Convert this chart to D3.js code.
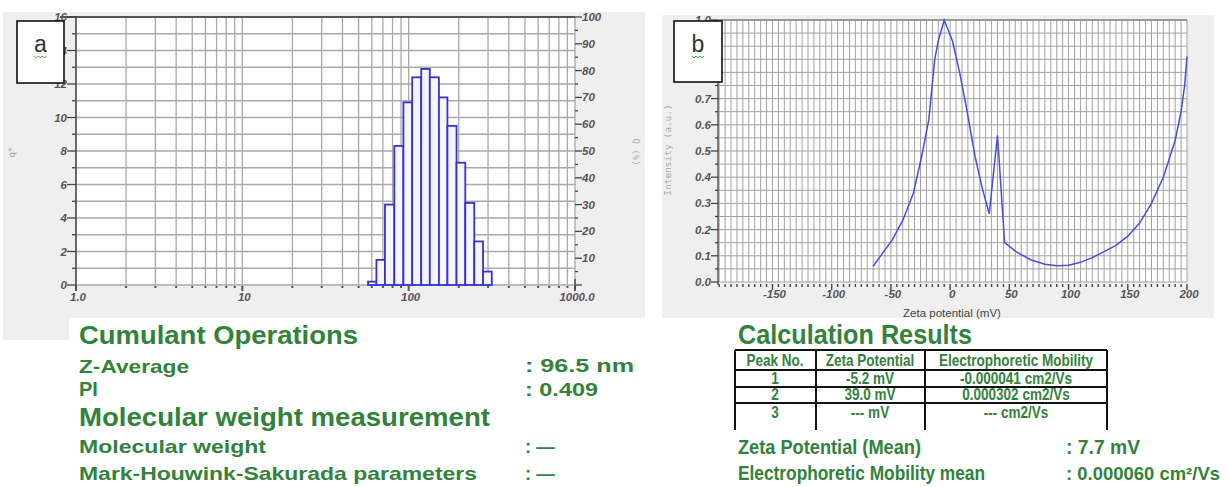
<!DOCTYPE html>
<html>
<head>
<meta charset="utf-8">
<script src="https://cdnjs.cloudflare.com/ajax/libs/d3/7.8.5/d3.min.js"></script>
<style>
  body { margin: 0; background: #fff; }
</style>
</head>
<body>
<svg id="chart" width="1228" height="487"></svg>
<script>
// ---- panel a : size distribution ----
var sizeEdges = [57, 64, 72, 82, 93, 105, 119, 134, 152, 171, 194, 219, 248, 280, 316]
var qValues = [0.2, 1.5, 4.8, 8.3, 10.9, 12.4, 12.9, 12.4, 11.2, 9.5, 7.3, 4.9, 2.6, 0.8]
var sizeTicks = [1, 10, 100, 1000]
var sizeTickLabels = ['1.0', '10', '100', '1000.0']
var qTicks = [0, 2, 4, 6, 8, 10, 12, 14, 16]
var cumTicks = [10, 20, 30, 40, 50, 60, 70, 80, 90, 100]

// ---- panel b : zeta potential ----
var zetaMv = [-65, -57, -49, -40, -31, -24, -18, -13, -10, -5, 2, 8, 14, 21, 27, 33, 40, 46, 56, 68, 80, 90, 100, 110, 120, 130, 140, 150, 160, 170, 180, 190, 195, 198, 200]
var zetaIntensity = [0.06, 0.11, 0.16, 0.235, 0.34, 0.48, 0.62, 0.85, 0.92, 1.0, 0.92, 0.80, 0.66, 0.48, 0.36, 0.26, 0.56, 0.15, 0.115, 0.085, 0.068, 0.062, 0.064, 0.075, 0.093, 0.116, 0.14, 0.175, 0.225, 0.30, 0.40, 0.54, 0.65, 0.75, 0.86]
var zetaTicks = [-150, -100, -50, 0, 50, 100, 150, 200]
// 0.8 and 0.9 sit under the "b" box in the original
var intensityTicks = [0, 0.1, 0.2, 0.3, 0.4, 0.5, 0.6, 0.7, 1.0]

// ---- text results ----
var peakHeader = ['Peak No.', 'Zeta Potential', 'Electrophoretic Mobility']
var peakNo = ['1', '2', '3']
var peakZeta = ['-5.2 mV', '39.0 mV', '--- mV']
var peakMobility = ['-0.000041 cm2/Vs', '0.000302 cm2/Vs', '--- cm2/Vs']

var svg = d3.select('#chart')
var green = '#33823c'
var tickFont = 'Liberation Sans, Arial, sans-serif'

// gray photo backgrounds
svg.append('rect').attr('x', 3).attr('y', 12).attr('width', 642).attr('height', 306).attr('fill', '#efefef')
svg.append('rect').attr('x', 3).attr('y', 318).attr('width', 66).attr('height', 22).attr('fill', '#efefef')
svg.append('rect').attr('x', 662).attr('y', 15).attr('width', 552).attr('height', 303).attr('fill', '#efefef')

// ================= chart a =================
var xa = d3.scaleLog().domain([1, 1000]).range([76, 575])
var ya = d3.scaleLinear().domain([0, 16]).range([285, 17])
var yQ = d3.scaleLinear().domain([0, 100]).range([285, 17])

var ga = svg.append('g')
ga.append('rect').attr('x', 76).attr('y', 17).attr('width', 499).attr('height', 268).attr('fill', '#fff')

var logGrid = []
;[1, 10, 100].forEach(function (d) {
  for (let k = 1; k < 10; k++) logGrid.push(d * k)
})
logGrid.push(1000)

ga.selectAll('.vg').data(logGrid).enter().append('line')
    .attr('x1', d => xa(d)).attr('x2', d => xa(d))
    .attr('y1', 17).attr('y2', 285)
    .attr('stroke', '#a9a9a9').attr('stroke-width', 1.3)

ga.selectAll('.hg').data(d3.range(0, 17)).enter().append('line')
    .attr('x1', 76).attr('x2', 575)
    .attr('y1', d => ya(d)).attr('y2', d => ya(d))
    .attr('stroke', '#a9a9a9').attr('stroke-width', 1.3)

// bottom dots
ga.selectAll('.bd').data(logGrid).enter().append('rect')
    .attr('x', d => xa(d) - 1).attr('y', 286)
    .attr('width', 2).attr('height', d => sizeTicks.indexOf(d) >= 0 ? 5 : 2)
    .attr('fill', '#555')

ga.append('line').attr('x1', 60).attr('x2', 575).attr('y1', 17).attr('y2', 17)
    .attr('stroke', '#555').attr('stroke-width', 2.2)
ga.append('line').attr('x1', 76).attr('x2', 76).attr('y1', 17).attr('y2', 289)
    .attr('stroke', '#444').attr('stroke-width', 1.4)

// histogram bars
var bins = qValues.map(function (q, i) { return { x0: sizeEdges[i], x1: sizeEdges[i + 1], q: q } })
ga.selectAll('.bar').data(bins).enter().append('rect')
    .attr('x', d => xa(d.x0))
    .attr('width', d => xa(d.x1) - xa(d.x0))
    .attr('y', d => ya(d.q))
    .attr('height', d => ya(0) - ya(d.q))
    .attr('fill', '#f6f6ff')
    .attr('stroke', '#3434d2')
    .attr('stroke-width', 1.8)

// left axis ticks
ga.selectAll('.lt').data(d3.range(0, 17)).enter().append('line')
    .attr('x1', d => d % 2 === 0 ? 67 : 72).attr('x2', 76)
    .attr('y1', d => ya(d)).attr('y2', d => ya(d))
    .attr('stroke', '#444').attr('stroke-width', 1.3)
ga.selectAll('.ll').data(qTicks).enter().append('text')
    .attr('x', 67).attr('y', d => ya(d) + 4)
    .attr('text-anchor', 'end')
    .attr('font-family', tickFont).attr('font-size', 11.5).attr('font-style', 'italic').attr('font-weight', 'bold')
    .attr('fill', '#555')
    .text(d => d)

// bottom labels
ga.selectAll('.xl').data(sizeTicks).enter().append('text')
    .attr('x', d => xa(d) + 2).attr('y', 301)
    .attr('text-anchor', 'middle')
    .attr('font-family', tickFont).attr('font-size', 11.5).attr('font-style', 'italic').attr('font-weight', 'bold')
    .attr('fill', '#555')
    .text((d, i) => sizeTickLabels[i])

// right axis (Q %)
ga.selectAll('.rt').data(d3.range(0, 101, 5)).enter().append('line')
    .attr('x1', 575).attr('x2', d => d % 10 === 0 ? 582 : 578)
    .attr('y1', d => yQ(d)).attr('y2', d => yQ(d))
    .attr('stroke', '#444').attr('stroke-width', 1.3)
ga.append('line').attr('x1', 575).attr('x2', 575).attr('y1', 279).attr('y2', 289)
    .attr('stroke', '#444').attr('stroke-width', 1.4)
ga.selectAll('.rl').data(cumTicks).enter().append('text')
    .attr('x', 582).attr('y', d => yQ(d) + 4)
    .attr('font-family', tickFont).attr('font-size', 11.5).attr('font-style', 'italic').attr('font-weight', 'bold')
    .attr('fill', '#555')
    .text(d => d)

ga.append('text').attr('transform', 'translate(15,152) rotate(-90)')
    .attr('text-anchor', 'middle').attr('font-family', 'DejaVu Sans Mono').attr('font-size', 9)
    .attr('fill', '#aaa').text('q*')
ga.append('text').attr('transform', 'translate(633,152) rotate(90)')
    .attr('text-anchor', 'middle').attr('font-family', 'DejaVu Sans Mono').attr('font-size', 9)
    .attr('fill', '#aaa').text('Q (%)')

// ================= chart b =================
var xb = d3.scaleLinear().domain([-196, 200]).range([718, 1187])
var yb = d3.scaleLinear().domain([0, 1]).range([282, 20])

var gb = svg.append('g')
gb.append('rect').attr('x', 718).attr('y', 20).attr('width', 469).attr('height', 262).attr('fill', '#fff')

gb.selectAll('.vg').data(d3.range(-195, 201, 5)).enter().append('line')
    .attr('x1', d => xb(d)).attr('x2', d => xb(d))
    .attr('y1', 20).attr('y2', 282)
    .attr('stroke', '#a2a2a2').attr('stroke-width', 1)

gb.selectAll('.hg').data(d3.range(0, 21)).enter().append('line')
    .attr('x1', 718).attr('x2', 1187)
    .attr('y1', d => yb(d * 0.05)).attr('y2', d => yb(d * 0.05))
    .attr('stroke', '#a2a2a2').attr('stroke-width', 1)

gb.append('line').attr('x1', 718).attr('x2', 1187).attr('y1', 20).attr('y2', 20)
    .attr('stroke', '#888').attr('stroke-width', 1.5)
gb.append('line').attr('x1', 718).attr('x2', 718).attr('y1', 20).attr('y2', 285)
    .attr('stroke', '#444').attr('stroke-width', 1.3)

// bottom minor ticks
gb.selectAll('.bt').data(d3.range(-195, 201, 5)).enter().append('line')
    .attr('x1', d => xb(d)).attr('x2', d => xb(d))
    .attr('y1', 284).attr('y2', d => d % 50 === 0 ? 290 : 287)
    .attr('stroke', '#444').attr('stroke-width', 1.4)

gb.selectAll('.lt').data(d3.range(0, 21)).enter().append('line')
    .attr('x1', d => d % 2 === 0 ? 711 : 715).attr('x2', 718)
    .attr('y1', d => yb(d * 0.05)).attr('y2', d => yb(d * 0.05))
    .attr('stroke', '#444').attr('stroke-width', 1.3)

gb.selectAll('.yl').data(intensityTicks).enter().append('text')
    .attr('x', 711).attr('y', d => yb(d) + 4)
    .attr('text-anchor', 'end')
    .attr('font-family', tickFont).attr('font-size', 11.5).attr('font-style', 'italic').attr('font-weight', 'bold')
    .attr('fill', '#555')
    .text(d => d3.format('.1f')(d))

gb.selectAll('.xl').data(zetaTicks).enter().append('text')
    .attr('x', d => xb(d) + 2).attr('y', 298)
    .attr('text-anchor', 'middle')
    .attr('font-family', tickFont).attr('font-size', 11.5).attr('font-style', 'italic').attr('font-weight', 'bold')
    .attr('fill', '#555')
    .text(d => d)

var zetaPts = zetaMv.map((m, i) => [m, zetaIntensity[i]])
gb.append('path')
    .attr('d', d3.line().x(d => xb(d[0])).y(d => yb(d[1]))(zetaPts))
    .attr('fill', 'none')
    .attr('stroke', '#4b4be0')
    .attr('stroke-width', 1.5)

gb.append('text').attr('x', 952).attr('y', 317)
    .attr('text-anchor', 'middle').attr('font-family', tickFont).attr('font-size', 11.5)
    .attr('fill', '#444').text('Zeta potential (mV)')
gb.append('text').attr('transform', 'translate(671,150) rotate(-90)')
    .attr('text-anchor', 'middle').attr('font-family', 'DejaVu Sans Mono').attr('font-size', 9.5)
    .attr('fill', '#aaa').text('Intensity (a.u.)')

// labelled boxes a / b
function labelBox(x, y, w, h, letter) {
  svg.append('rect').attr('x', x).attr('y', y).attr('width', w).attr('height', h)
      .attr('fill', '#fff').attr('stroke', '#111').attr('stroke-width', 1.6)
  svg.append('text').attr('x', x + w / 2).attr('y', y + 31)
      .attr('text-anchor', 'middle').attr('font-family', 'Liberation Sans, Arial').attr('font-size', 23)
      .attr('fill', '#333').text(letter)
  var zx = x + w / 2 - 6
  var zz = []
  for (let k = 0; k <= 6; k++) zz.push([zx + k * 2, y + 35 + (k % 2 ? 2 : 0)])
  svg.append('path').attr('d', d3.line()(zz)).attr('fill', 'none').attr('stroke', '#2a9a2a').attr('stroke-width', 0.9)
}
labelBox(17, 21, 47, 62, 'a')
labelBox(674, 21, 48, 61, 'b')

// ================= result texts =================
function gText(x, y, size, len, txt) {
  var t = svg.append('text').attr('x', x).attr('y', y)
      .attr('font-family', 'Liberation Sans, Arial, sans-serif')
      .attr('font-size', size).attr('font-weight', 'bold')
      .attr('fill', green)
      .text(txt)
  if (len) t.attr('textLength', len).attr('lengthAdjust', 'spacingAndGlyphs')
}

gText(79, 344, 25, 279, 'Cumulant Operations')
gText(79, 373, 19, 110, 'Z-Average')
gText(525, 372, 19, 109, ': 96.5 nm')
gText(79, 396, 20, 0, 'PI')
gText(525, 396, 19, 73, ': 0.409')
gText(79, 426, 25, 411, 'Molecular weight measurement')
gText(79, 453, 19, 187, 'Molecular weight')
gText(525, 453, 19, 30, ': \u2014')
gText(79, 480, 19, 398, 'Mark-Houwink-Sakurada parameters')
gText(525, 480, 19, 30, ': \u2014')

gText(738, 344, 27, 234, 'Calculation Results')

// table
var colX = [735, 816, 925, 1107]
var rowY = [350, 370, 387, 403]
var tg = svg.append('g')
tg.selectAll('.hl').data(rowY).enter().append('line')
    .attr('x1', colX[0]).attr('x2', colX[3])
    .attr('y1', d => d).attr('y2', d => d)
    .attr('stroke', '#111').attr('stroke-width', 2)
tg.selectAll('.vl').data(colX).enter().append('line')
    .attr('x1', d => d).attr('x2', d => d)
    .attr('y1', 350).attr('y2', 430)
    .attr('stroke', '#111').attr('stroke-width', 2)

var colMid = [775, 870, 1016]
function cell(x, y, txt) {
  var t = tg.append('text').attr('x', x).attr('y', y)
      .attr('text-anchor', 'middle').attr('font-family', 'Liberation Sans, Arial').attr('font-size', 16.5)
      .attr('font-weight', 'bold').attr('fill', green)
      .text(txt)
  // squeeze to look like a narrow face
  var w = t.node().getComputedTextLength()
  t.attr('textLength', w * 0.82).attr('lengthAdjust', 'spacingAndGlyphs')
}
peakHeader.forEach((h, i) => cell(colMid[i], 366, h))
var rowBase = [384, 400, 418]
var rows = peakNo.map((p, i) => [p, peakZeta[i], peakMobility[i]])
rows.forEach(function (r, j) {
  r.forEach((c, i) => cell(colMid[i], rowBase[j], c))
})

gText(738, 454, 20, 183, 'Zeta Potential (Mean)')
gText(1066, 454, 20, 74, ': 7.7 mV')
gText(738, 480, 20, 247, 'Electrophoretic Mobility mean')
gText(1066, 480, 17.5, 154, ': 0.000060 cm\u00b2/Vs')
</script>
</body>
</html>
